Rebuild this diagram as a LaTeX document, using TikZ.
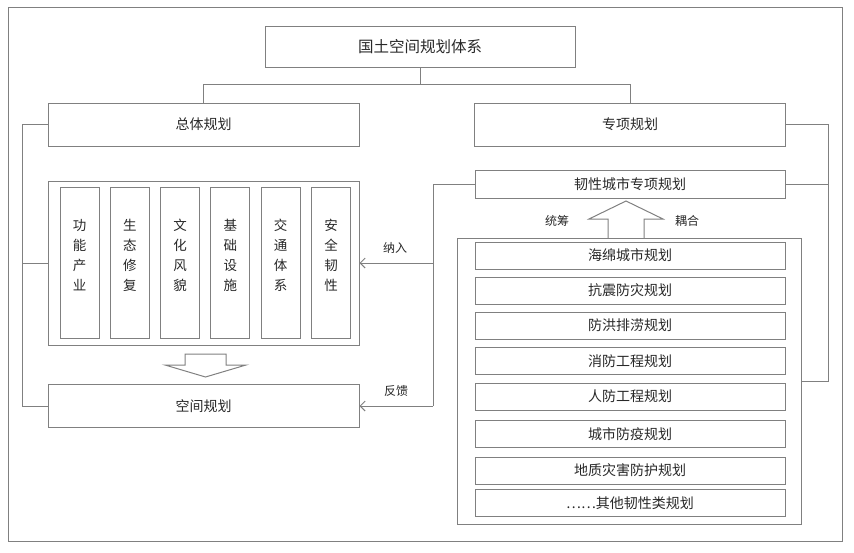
\documentclass[tikz,border=0pt]{standalone}
\usepackage{fontspec}
\setmainfont{Noto Sans CJK SC}
\usepackage{tikz}
\usetikzlibrary{positioning,arrows.meta}
\definecolor{linegray}{RGB}{128,128,128}
\definecolor{txtgray}{RGB}{40,40,40}

\begin{document}
\begin{tikzpicture}[x=1pt,y=-1pt,
    every node/.style={text=txtgray},
    box/.style={draw=linegray,line width=1pt,inner sep=0pt},
    wide/.style={box,minimum width=311pt,minimum height=43pt,font=\fontsize{14}{16}\selectfont},
    item/.style={box,minimum width=310pt,minimum height=27pt,font=\fontsize{14}{16}\selectfont},
    col/.style={box,minimum width=39pt,minimum height=151pt,align=center,text depth=16pt,font=\fontsize{13.5}{20}\selectfont},
    tag/.style={font=\fontsize{12}{14}\selectfont},
    link/.style={draw=linegray,line width=1pt},
    feed/.style={link,-{Straight Barb[length=5pt,width=10pt]}}]

        \useasboundingbox (0,0) rectangle (854,552);
        \draw[link] (8,7) rectangle (842,541);

        \node[box,minimum width=310pt,minimum height=41pt,font=\fontsize{15.5}{18}\selectfont] (gt) at (420,46.5) {国土空间规划体系};

        \node[wide] (zt) at (203.5,124.5) {总体规划};
        \node[wide] (zx) at (630,124.5) {专项规划};

        % left side
        \node[box,minimum width=311pt,minimum height=164pt] (ys) at (203.5,263) {};
        \foreach \t [count=\i] in {{功\\能\\产\\业},{生\\态\\修\\复},{文\\化\\风\\貌},{基\\础\\设\\施},{交\\通\\体\\系},{安\\全\\韧\\性}}
            \node[col] (c\i) at ({79.5+(\i-1)*50.3},262.5) {\t};
        \node[wide] (kj) at (203.5,406) {空间规划};

        % right side
        \node[box,minimum width=310pt,minimum height=28pt,font=\fontsize{14}{16}\selectfont] (rx) at (630,184) {韧性城市专项规划};
        \node[box,minimum width=344pt,minimum height=286pt] (zh) at (629,381) {};
        \foreach \y/\t [count=\i] in {255.5/海绵城市规划,290.5/抗震防灾规划,325.5/防洪排涝规划,361/消防工程规划,396.5/人防工程规划,434/城市防疫规划,470.5/地质灾害防护规划,503/……其他韧性类规划}
            \node[item] (p\i) at (630,\y) {\t};

        \node[tag] (nr) at (395,248) {纳入};
        \node[tag] (fk) at (396,391) {反馈};
        \node[tag] (tc) at (557,221) {统筹};
        \node[tag] (oh) at (687,221) {耦合};

        \coordinate (br) at (420,84);
        \coordinate (lt) at (22,124.5);
        \coordinate (rt) at (828,124.5);
        \coordinate (md) at (433,406);

        \draw[link] (gt.south) -- (br) -| (zt.north);
        \draw[link] (br) -| (zx.north);
        \draw[link] (zt.west) -- (lt) |- (kj.west);
        \draw[link] (lt |- ys.west) -- (ys.west);
        \draw[link] (zx.east) -- (rt) |- (zh.east);
        \draw[link] (rx.east) -- (rt |- rx.east);
        \draw[link] (rx.west) -| (md);
        \draw[feed] (md) -- (kj.east);
        \draw[feed] (md |- ys.east) -- (ys.east);

        % block arrows
        \draw[link] (185,354) -- (226,354) -- (226,365) -- (246,365) -- (205.5,377) -- (165,365) -- (185,365) -- cycle;
        \draw[link] (608,238) -- (608,219) -- (589,219) -- (626,201) -- (663,219) -- (644,219) -- (644,238);
    \end{tikzpicture}
\end{document}
